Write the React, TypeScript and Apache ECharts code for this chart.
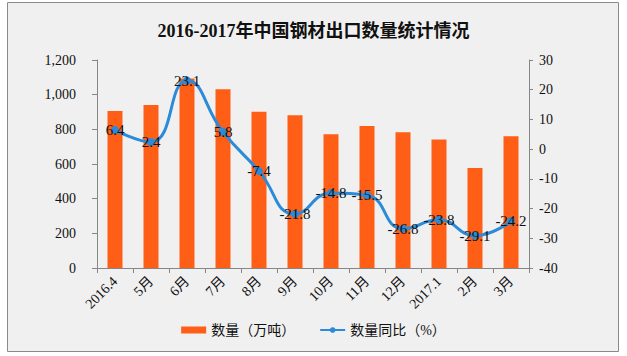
import React, { useEffect, useRef } from "react";
import * as echarts from "echarts";

const categories = ["2016.4", "5月", "6月", "7月", "8月", "9月", "10月", "11月", "12月", "2017.1", "2月", "3月"];
const quantity = [906, 941, 1093, 1031, 902, 881, 771, 819, 783, 742, 577, 760];
const yoy = [6.4, 2.4, 23.1, 5.8, -7.4, -21.8, -14.8, -15.5, -26.8, -23.8, -29.1, -24.2];
const leftTicks = { min: 0, max: 1200, interval: 200 };
const rightTicks = { min: -40, max: 30, interval: 10 };
const titleText = "2016-2017年中国钢材出口数量统计情况";
const barName = "数量（万吨）";
const lineName = "数量同比（%）";

const FONT = "'Liberation Serif', 'Noto Sans CJK SC', serif";

export default function App() {
  const ref = useRef<HTMLDivElement>(null);
  useEffect(() => {
    if (!ref.current) return;
    const chart = echarts.init(ref.current, undefined, { renderer: "svg" });
    const axisColor = "#868686";
    chart.setOption({
      animation: false,
      backgroundColor: "#ffffff",
      textStyle: { fontFamily: FONT },
      graphic: [
        {
          type: "rect",
          z: -10,
          silent: true,
          shape: { x: 7.5, y: 2.5, width: 611, height: 349 },
          style: { fill: "#f0f0f0", stroke: "#8a8a8a", lineWidth: 1 },
        },
      ],
      title: {
        text: titleText,
        left: "center",
        top: 17,
        textStyle: { fontFamily: FONT, fontSize: 18, fontWeight: "bold", color: "#111" },
      },
      legend: {
        bottom: 14,
        left: "center",
        itemGap: 24,
        textStyle: { fontFamily: FONT, fontSize: 14, color: "#111" },
        data: [
          { name: barName, icon: "rect" },
          { name: lineName },
        ],
        itemWidth: 25,
        itemHeight: 7,
      },
      grid: { left: 97, right: 98, top: 60, bottom: 88, containLabel: false },
      xAxis: {
        type: "category",
        data: categories,
        boundaryGap: true,
        axisLine: { lineStyle: { color: axisColor } },
        axisTick: { show: true, length: 5, alignWithLabel: false, lineStyle: { color: axisColor } },
        axisLabel: { rotate: 45, margin: 11, fontSize: 14, color: "#111", fontFamily: FONT, interval: 0 },
      },
      yAxis: [
        {
          type: "value",
          min: leftTicks.min,
          max: leftTicks.max,
          interval: leftTicks.interval,
          splitLine: { show: false },
          axisLine: { show: true, lineStyle: { color: axisColor } },
          axisTick: { show: true, length: 5, lineStyle: { color: axisColor } },
          axisLabel: {
            margin: 21,
            fontSize: 14,
            color: "#111",
            fontFamily: FONT,
            formatter: (v: number) => v.toLocaleString("en-US"),
          },
        },
        {
          type: "value",
          min: rightTicks.min,
          max: rightTicks.max,
          interval: rightTicks.interval,
          splitLine: { show: false },
          axisLine: { show: true, lineStyle: { color: axisColor } },
          axisTick: { show: true, length: 4, lineStyle: { color: axisColor } },
          axisLabel: { margin: 10, fontSize: 14, color: "#111", fontFamily: FONT },
        },
      ],
      series: [
        {
          name: barName,
          type: "bar",
          data: quantity,
          barWidth: 15,
          itemStyle: { color: "#ff5e17" },
          z: 2,
        },
        {
          name: lineName,
          type: "line",
          yAxisIndex: 1,
          data: yoy,
          smooth: true,
          symbol: "circle",
          symbolSize: 8,
          lineStyle: { color: "#2b8bd9", width: 3 },
          itemStyle: { color: "#2b8bd9" },
          label: {
            show: true,
            position: "inside",
            fontSize: 15,
            color: "#111",
            fontFamily: FONT,
          },
          z: 3,
        },
      ],
    });
    return () => chart.dispose();
  }, []);
  return (
    <div
      ref={ref}
      style={{ position: "fixed", left: 0, top: 0, width: 627, height: 356 }}
    />
  );
}
